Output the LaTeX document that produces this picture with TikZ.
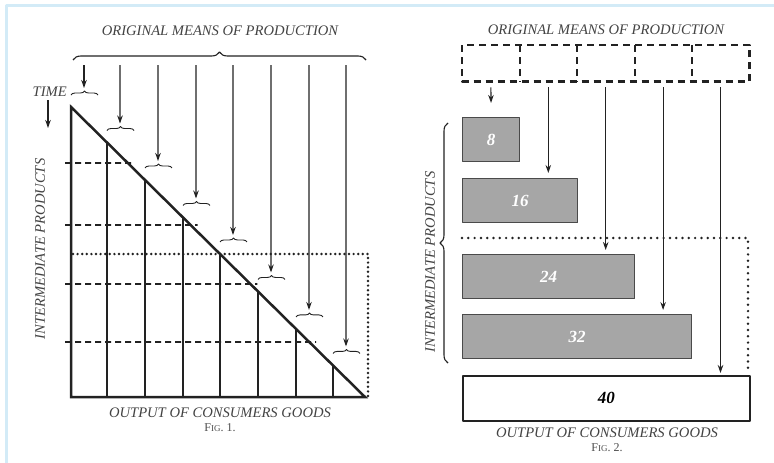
\documentclass[tikz,border=0pt]{standalone}
\usepackage{fontspec}
\setmainfont{Liberation Serif}
\usetikzlibrary{arrows.meta,calc,decorations.pathreplacing}
\definecolor{framecol}{HTML}{D3EBF7}
\definecolor{inkcol}{HTML}{222222}
\definecolor{boxgrey}{HTML}{A6A6A6}
\definecolor{boxline}{HTML}{4A4A4A}
\tikzset{
  lbl/.style={font=\itshape\fontsize{14.6}{16}\selectfont, text=inkcol!85, inner sep=0pt},
  figlbl/.style={font=\fontsize{12}{14}\selectfont, text=inkcol!80, inner sep=0pt},
  downarrow/.style={-{Stealth[length=8pt,width=5.5pt]}, line width=1.1pt, draw=inkcol},
  smallbrace/.style={decorate, decoration={brace, amplitude=4pt}, line width=0.9pt, draw=inkcol},
  bigbrace/.style={decorate, decoration={brace, amplitude=8pt}, line width=1.1pt, draw=inkcol},
  dashline/.style={line width=1.7pt, dash pattern=on 6pt off 4pt, draw=inkcol},
  dotline/.style={line width=2.7pt, line cap=round, dash pattern=on 0pt off 4.6pt, draw=inkcol},
  dashbox/.style={line width=2.2pt, dash pattern=on 7pt off 5pt, draw=inkcol},
  gbox/.style={draw=boxline, line width=1.1pt, fill=boxgrey, anchor=north west, minimum height=44pt,
    inner sep=0pt, text=white, font=\bfseries\itshape\fontsize{17}{19}\selectfont},
  wbox/.style={gbox, fill=white, draw=inkcol, line width=1.7pt, text=black, minimum height=45pt},
  cell/.style={anchor=north west, minimum width=57.4pt, minimum height=36pt, inner sep=0pt}
}
\begin{document}
\begin{tikzpicture}[x=1pt, y=-1pt, line join=round, >=stealth]
  \useasboundingbox (0,0) rectangle (774,463);
  \fill[white] (0,0) rectangle (774,463);
  \draw[framecol, line width=3pt] (6.5,463) -- (6.5,5) -- (774,5);

  % Fig. 1
  \path (71,107) coordinate (apex)
        (365,397) coordinate (foot)
        (71,397) coordinate (corner);
  \node[lbl] (title1) at (220,31) {ORIGINAL MEANS OF PRODUCTION};
  \draw[bigbrace] (73,60) -- (366,60);
  \node[lbl, anchor=east] (time) at (67,92) {TIME};
  \draw[downarrow] (48,100) -- (48,128);

  \draw[dotline] (73,254) -- (368,254) -- (368,397);
  \foreach \yy in {163,225,284,342} {
    \path ($(apex)!{(\yy-107)/290}!(foot)$) coordinate (h);
    \draw[dashline] (65,\yy) -- ($(h)+(7,0)$);
  }
  \foreach \xx in {107,145,183,220,258,296,333} {
    \path ($(apex)!{(\xx-71)/294}!(foot)$) coordinate (t);
    \draw[line width=1.4pt, draw=inkcol] (t) -- (t |- foot);
  }
  \draw[line width=2.5pt, draw=inkcol, line join=miter] (corner) -- (apex) -- (foot) -- cycle;
  \foreach \xx in {71,107,145,183,220,258,296,333} {
    \path ($(apex)!{(\xx-71)/294}!(foot)$) coordinate (t);
    \draw[smallbrace] ($(t)+(0,-12)$) -- ($(t)+(27,-12)$);
    \draw[downarrow] ({\xx+13},65) -- ($(t)+(13,-19)$);
  }
  \node[lbl, rotate=90] (inter1) at (40,249) {INTERMEDIATE PRODUCTS};
  \node[lbl] (out1) at (220,413) {OUTPUT OF CONSUMERS GOODS};
  \node[figlbl] (fig1) at (220,428) {F{\fontsize{9}{10}\selectfont IG}. 1.};

  % Fig. 2
  \node[lbl] (title2) at (606,30) {ORIGINAL MEANS OF PRODUCTION};
  \foreach \i in {1,...,5}
    \node[cell] (c\i) at ({462+57.4*(\i-1)},45) {};
  \draw[dashbox] (c1.north west) rectangle (c5.south east);
  \foreach \i in {1,...,4}
    \draw[dashbox] (c\i.north east) -- (c\i.south east);

  \node[gbox, minimum width=57pt] (b8) at (462,117) {8};
  \node[gbox, minimum width=115pt] (b16) at (462,178) {16};
  \node[gbox, minimum width=172pt] (b24) at (462,254) {24};
  \node[gbox, minimum width=229pt] (b32) at (462,314) {32};
  \node[wbox, minimum width=287pt] (b40) at (462,375) {40};

  \draw[dotline, dash pattern=on 0pt off 6.3pt] (b24.north west) ++(0,-16) -- (748,238) -- (748,372);

  \draw[downarrow] ($(c1.south)+(0,6)$) -- ($(b8.north)+(0,-14)$);
  \draw[downarrow] ($(c2.south)+(0,6)$) -- ($(c2.south |- b16.north)+(0,-5)$);
  \draw[downarrow] ($(c3.south)+(0,6)$) -- ($(c3.south |- b24.north)+(0,-4)$);
  \draw[downarrow] ($(c4.south)+(0,6)$) -- ($(c4.south |- b32.north)+(0,-4)$);
  \draw[downarrow] ($(c5.south)+(0,6)$) -- ($(c5.south |- b40.north)+(0,-2)$);

  \draw[bigbrace] (448,363) -- (448,123);
  \node[lbl, rotate=90] (inter2) at (430,262) {INTERMEDIATE PRODUCTS};
  \node[lbl] (out2) at (607,433) {OUTPUT OF CONSUMERS GOODS};
  \node[figlbl] (fig2) at (607,448) {F{\fontsize{9}{10}\selectfont IG}. 2.};
\end{tikzpicture}
\end{document}
